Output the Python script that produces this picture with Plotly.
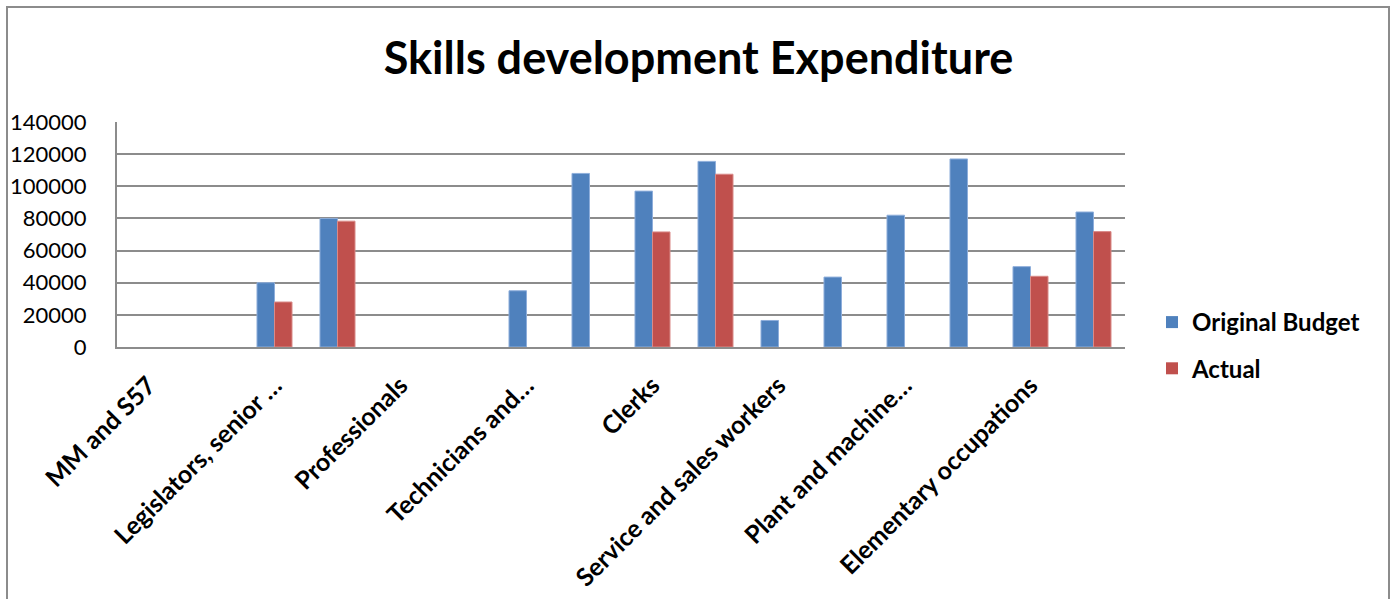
import plotly.graph_objects as go

# Occupation labels shown on the category axis (every other slot is labelled)
occupation_labels = [
    "MM and S57",
    "Legislators, senior …",
    "Professionals",
    "Technicians and…",
    "Clerks",
    "Service and sales workers",
    "Plant and machine…",
    "Elementary occupations",
]

# Sixteen category slots along the x axis
slots = list(range(16))

original_budget = [0, 0, 40000, 80000, 0, 0, 35000, 108000,
                   97000, 115500, 16500, 43500, 82000, 117000, 50000, 84000]
actual = [0, 0, 28000, 78300, 0, 0, 0, 0,
          71600, 107500, 0, 0, 0, 0, 44000, 71800]

y_ticks = [0, 20000, 40000, 60000, 80000, 100000, 120000, 140000]

BLUE = "#4F81BD"
RED = "#C0504D"
GRID = "#8C8C8C"
FONT = "Lato"


def edge_widths(values):
    # thin light edge only on bars that actually have height
    return [1 if v else 0 for v in values]


fig = go.Figure()
fig.add_trace(go.Bar(
    x=slots, y=original_budget, name="Original Budget",
    marker=dict(color=BLUE, line=dict(color="#8EAEDB", width=edge_widths(original_budget))),
    legendgroup="budget",
))
fig.add_trace(go.Bar(
    x=slots, y=actual, name="Actual",
    marker=dict(color=RED, line=dict(color="#D98A88", width=edge_widths(actual))),
    legendgroup="actual",
))

W, H = 1397, 599
L, R, T, B = 117, 1125, 122, 347
pw, ph = R - L, B - T

fig.update_layout(
    width=W, height=H,
    margin=dict(l=L, r=W - R, t=T, b=H - B, autoexpand=False),
    paper_bgcolor="white", plot_bgcolor="white",
    barmode="group", bargap=0.444, bargroupgap=0,
    font=dict(family=FONT, color="black"),
    title=dict(
        text="<b>Skills development Expenditure</b>",
        font=dict(family=FONT, size=45, color="black"),
        x=0.5, xref="container", xanchor="center",
        y=1 - 58 / H, yref="container", yanchor="middle",
    ),
    legend=dict(
        x=(1152 - L) / pw, xanchor="left",
        y=(B - 300) / ph, yanchor="top",
        font=dict(family=FONT, size=24, color="black", weight="bold"),
        tracegroupgap=12,
        bgcolor="rgba(0,0,0,0)",
    ),
    xaxis=dict(
        range=[-0.5, 15.5],
        tickmode="array",
        tickvals=slots[0::2],
        ticktext=[f"<b>{t}</b>" for t in occupation_labels],
        tickangle=-45,
        tickfont=dict(family=FONT, size=25, color="black"),
        showline=True, linecolor=GRID, linewidth=2,
        showgrid=False, zeroline=False, automargin=False,
        ticks="", ticklabelstandoff=12,
    ),
    yaxis=dict(
        range=[0, 140000],
        tickmode="array",
        tickvals=y_ticks,
        ticktext=[str(v) for v in y_ticks],
        tickfont=dict(family=FONT, size=22, color="black"),
        showline=True, linecolor=GRID, linewidth=2,
        showgrid=True, gridcolor=GRID, gridwidth=2,
        zeroline=False, automargin=False, ticks="", ticklabelstandoff=24,
    ),
)

# Outer chart frame
fig.add_shape(
    type="rect", xref="paper", yref="paper",
    x0=(7 - L) / pw, x1=(1389 - L) / pw,
    y0=(B - 640) / ph, y1=(B - 7) / ph,
    line=dict(color="#8C8C8C", width=2), fillcolor="rgba(0,0,0,0)",
    layer="below",
)

fig.write_html("out.html")
